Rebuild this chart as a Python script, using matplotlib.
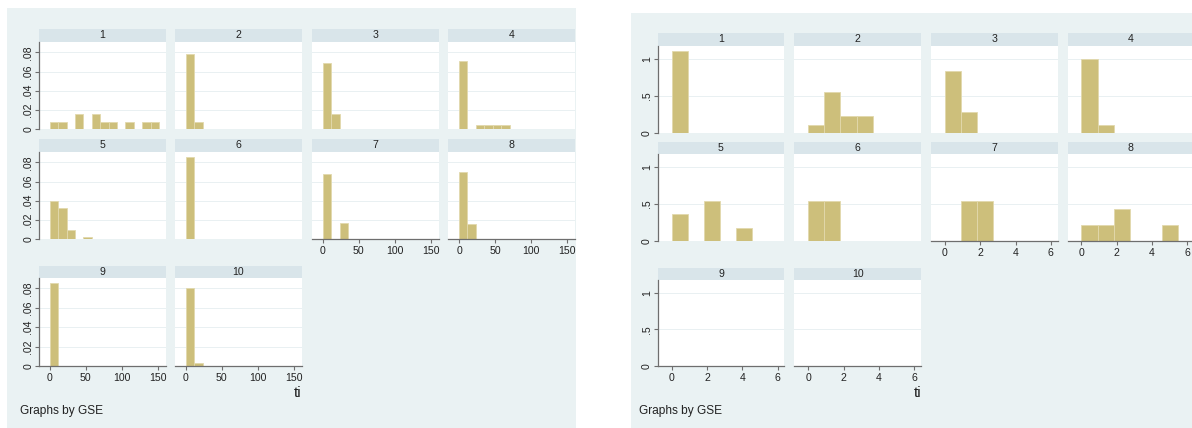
import matplotlib
matplotlib.use("Agg")
import matplotlib.pyplot as plt
from matplotlib.patches import Rectangle

plt.rcParams["font.family"] = ["Liberation Sans", "DejaVu Sans"]

# ---- data -------------------------------------------------------------
gse_groups = [1, 2, 3, 4, 5, 6, 7, 8, 9, 10]

# histogram of ti (wide range), density per bin, bins start at 0
ti_wide_bin = 11.7
ti_wide_density = [
    [0.0078, 0.0078, 0, 0.0157, 0, 0.0157, 0.0078, 0.0078, 0, 0.0078, 0, 0.0078, 0.0078],
    [0.0779, 0.0078],
    [0.0692, 0.0159],
    [0.0706, 0, 0.0042, 0.0042, 0.0042, 0.0042],
    [0.0401, 0.0328, 0.0097, 0, 0.0024],
    [0.0852],
    [0.0682, 0, 0.0172],
    [0.0696, 0.0156],
    [0.0852],
    [0.0807, 0.0034],
]
ti_wide_xticks = [0, 50, 100, 150]
ti_wide_yticks = [0, 0.02, 0.04, 0.06, 0.08]
ti_wide_yticklabels = ["0", ".02", ".04", ".06", ".08"]

# histogram of ti (narrow range)
ti_narrow_bin = 0.913
ti_narrow_density = [
    [1.11],
    [0.111, 0.556, 0.222, 0.222],
    [0.833, 0.278],
    [1.0, 0.111],
    [0.365, 0, 0.548, 0, 0.178],
    [0.548, 0.548],
    [0, 0.548, 0.548],
    [0.214, 0.214, 0.438, 0, 0, 0.214],
    [],
    [],
]
ti_narrow_xticks = [0, 2, 4, 6]
ti_narrow_yticks = [0, 0.5, 1]
ti_narrow_yticklabels = ["0", ".5", "1"]

# ---- styling ----------------------------------------------------------
W, H = 1192, 428
GRAPH_BG = "#eaf2f3"
STRIP_BG = "#d9e5ea"
BAR = "#cdbf7b"
BAR_EDGE = "#e2d9ad"
AXIS = "#6e6e6e"
GRID = "#e9f0f2"
TXT = "#222222"

fig = plt.figure(figsize=(W / 100, H / 100), dpi=100)
fig.patch.set_facecolor("white")


def px_axes(x0, y0, x1, y1):
    return fig.add_axes([x0 / W, 1 - y1 / H, (x1 - x0) / W, (y1 - y0) / H])


def draw_graph(bg, col_x, col_w, rows, densities, bin_w, xlim, ylim,
               xticks, yticks, yticklabels, ti_pos, note_pos):
    fig.add_artist(Rectangle((bg[0] / W, 1 - bg[3] / H), (bg[2] - bg[0]) / W,
                             (bg[3] - bg[1]) / H, transform=fig.transFigure,
                             facecolor=GRAPH_BG, edgecolor="none", zorder=0))
    n = len(gse_groups)
    for i, g in enumerate(gse_groups):
        r, c = divmod(i, 4)
        strip_top, plot_top, plot_bot = rows[r]
        x0 = col_x[c]
        x1 = x0 + col_w
        # subtitle strip
        sa = px_axes(x0, strip_top, x1, plot_top)
        sa.set_facecolor(STRIP_BG)
        sa.set_xticks([])
        sa.set_yticks([])
        for s in sa.spines.values():
            s.set_visible(False)
        sa.text(0.5, 0.5, str(g), ha="center", va="center", fontsize=7.6,
                color=TXT, transform=sa.transAxes)

        ax = px_axes(x0, plot_top, x1, plot_bot)
        ax.set_facecolor("white")
        ax.set_xlim(*xlim)
        ax.set_ylim(*ylim)
        for yv in yticks[1:]:
            ax.axhline(yv, color=GRID, lw=0.7, zorder=0.5)
        heights = densities[i]
        lefts = [k * bin_w for k, h in enumerate(heights) if h > 0]
        hs = [h for h in heights if h > 0]
        if hs:
            ax.bar(lefts, hs, width=bin_w, align="edge", color=BAR,
                   edgecolor=BAR_EDGE, linewidth=0.6, zorder=2)

        show_y = c == 0
        show_x = (i + 4) >= n
        for name, s in ax.spines.items():
            s.set_color(AXIS)
            s.set_linewidth(0.9)
            s.set_visible((name == "left" and show_y) or (name == "bottom" and show_x))
        ax.tick_params(colors=AXIS, labelcolor=TXT, length=2.9, width=0.8,
                       labelsize=7.6)
        ax.tick_params(axis="x", pad=2.0)
        ax.tick_params(axis="y", pad=1.2)
        if show_y:
            ax.set_yticks(yticks)
            ax.set_yticklabels(yticklabels, rotation=90, va="center")
        else:
            ax.set_yticks([])
        if show_x:
            ax.set_xticks(xticks)
            ax.set_xticklabels([str(t) for t in xticks])
        else:
            ax.set_xticks([])

    fig.text(ti_pos[0] / W, 1 - ti_pos[1] / H, "ti", ha="right", va="center",
             fontsize=11, color=TXT)
    fig.text(note_pos[0] / W, 1 - note_pos[1] / H, "Graphs by GSE", ha="left",
             va="center", fontsize=8.6, color=TXT)


draw_graph(bg=(7, 8, 576, 428),
           col_x=[39, 175, 312, 448.3], col_w=126.5,
           rows=[(29, 42, 129.3), (139, 152, 239.3), (266, 278, 366)],
           densities=ti_wide_density, bin_w=ti_wide_bin,
           xlim=(-15, 161), ylim=(0, 0.0907),
           xticks=ti_wide_xticks, yticks=ti_wide_yticks,
           yticklabels=ti_wide_yticklabels,
           ti_pos=(301.5, 393), note_pos=(20, 411))

draw_graph(bg=(631, 12.7, 1192, 428),
           col_x=[657.7, 794.3, 931, 1067.5], col_w=126.6,
           rows=[(33, 46, 132.7), (142.3, 154.3, 241), (267.7, 280, 366)],
           densities=ti_narrow_density, bin_w=ti_narrow_bin,
           xlim=(-0.79, 6.38), ylim=(0, 1.175),
           xticks=ti_narrow_xticks, yticks=ti_narrow_yticks,
           yticklabels=ti_narrow_yticklabels,
           ti_pos=(921, 393), note_pos=(639, 411))

fig.savefig("out.png", dpi=100, facecolor=fig.get_facecolor())
